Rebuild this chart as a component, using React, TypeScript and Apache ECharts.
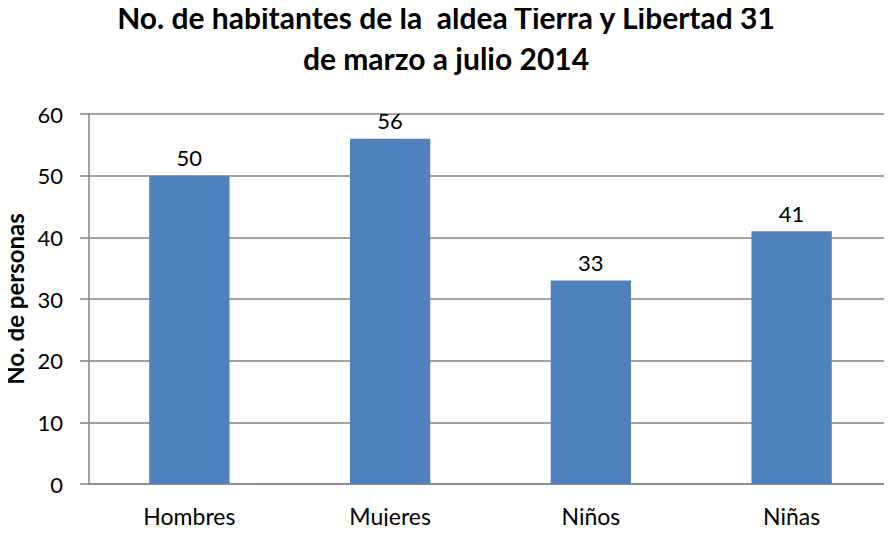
import React, { useEffect, useRef } from "react";
import * as echarts from "echarts";

const categories = ["Hombres", "Mujeres", "Niños", "Niñas"];
const values = [50, 56, 33, 41];
const titleLines = ["No. de habitantes de la  aldea Tierra y Libertad 31", "de marzo a julio 2014"];
const yAxisName = "No. de personas";

export default function App() {
  const ref = useRef<HTMLDivElement>(null);
  useEffect(() => {
    const chart = echarts.init(ref.current!, null, { renderer: "svg" });
    const font = "Lato";
    chart.setOption({
      animation: false,
      backgroundColor: "#ffffff",
      title: {
        text: titleLines.join("\n"),
        left: "center",
        top: -4,
        padding: 0,
        textStyle: { fontFamily: font, fontWeight: "bold", fontSize: 30, lineHeight: 41, color: "#000" },
      },
      grid: { left: 89, right: 0, top: 114, bottom: 50, containLabel: false, outerBoundsMode: "none" },
      xAxis: {
        type: "category",
        data: categories,
        axisLine: { lineStyle: { color: "#868686", width: 1.5 } },
        axisTick: { show: false },
        axisLabel: { color: "#000", fontFamily: font, fontSize: 23, margin: 20 },
      },
      yAxis: {
        type: "value",
        min: 0,
        max: 60,
        interval: 10,
        name: yAxisName,
        nameLocation: "middle",
        nameGap: 62,
        nameTextStyle: { fontFamily: font, fontWeight: "bold", fontSize: 24, color: "#000" },
        axisLine: { show: true, lineStyle: { color: "#868686", width: 1.5 } },
        axisTick: { show: true, length: 9, lineStyle: { color: "#868686", width: 1.5 } },
        axisLabel: { color: "#000", fontFamily: font, fontSize: 22, margin: 26 },
        splitLine: { lineStyle: { color: "#868686", width: 1.5 } },
      },
      series: [
        {
          type: "bar",
          data: values,
          barWidth: "40%",
          itemStyle: { color: "#4F81BD" },
          label: { show: true, position: "top", distance: 7, color: "#000", fontFamily: font, fontSize: 22 },
        },
      ],
    });
    return () => chart.dispose();
  }, []);
  return <div ref={ref} style={{ width: 892, height: 534, margin: -8 }} />;
}
